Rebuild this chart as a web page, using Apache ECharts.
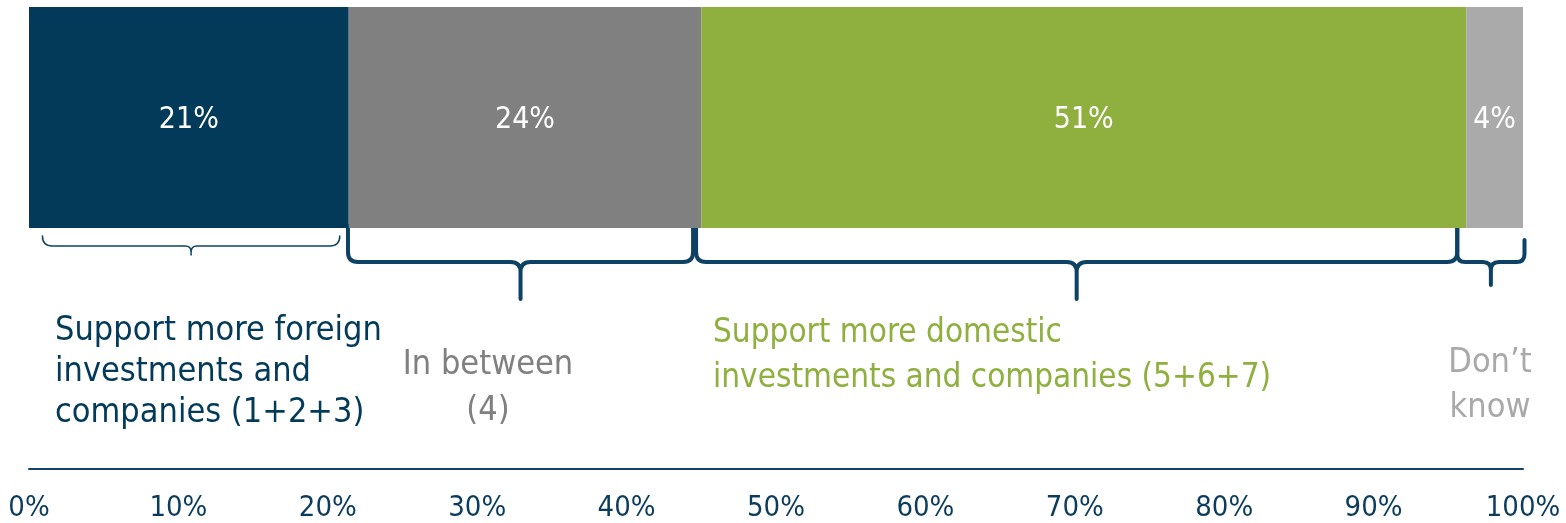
<!DOCTYPE html>
<html>
<head>
<meta charset="utf-8">
<title>Foreign vs domestic investments</title>
<script src="https://cdn.jsdelivr.net/npm/echarts@6/dist/echarts.min.js"></script>
<style>
  html, body { margin: 0; padding: 0; background: #fff; }
  #chart { width: 1566px; height: 523px; }
</style>
</head>
<body>
<div id="chart"></div>
<script>
// answer groups, left to right
const groups = ['Support more foreign investments and companies (1+2+3)', 'In between (4)', 'Support more domestic investments and companies (5+6+7)', 'Don’t know']
const shares = [21.4, 23.6, 51.2, 3.8]
const groupColors = ['#033a5a', '#808080', '#8faf3f', '#abaaab']
const textColors = ['#033a5a', '#808080', '#8faf3f', '#a9a9a9']
const groupLines = [
  ['Support more foreign', 'investments and', 'companies (1+2+3)'],
  ['In between', '(4)'],
  ['Support more domestic', 'investments and companies (5+6+7)'],
  ['Don’t', 'know']
]
// axis ticks
const xMin = 0
const xMax = 100
const xStep = 10
// brace spans, in % of the axis
const braceSpans = [[0.9, 20.8], [21.35, 44.45], [44.65, 95.6], [95.6, 100.1]]

// brace look (pixels)
const braceStyles = [
  { w: 1.5, topL: 236, topR: 236, h: 246, tip: 255, re: 10, rc: 6 },
  { w: 4, topL: 226, topR: 226, h: 262, tip: 299, re: 10, rc: 10 },
  { w: 4, topL: 226, topR: 228, h: 262, tip: 299, re: 10, rc: 10 },
  { w: 4, topL: 228, topR: 240, h: 262, tip: 285, re: 8, rc: 8 }
]
// text blocks (pixels)
const textPlaces = [
  { x: 55, y: 311, align: 'left', lh: 41, size: 34 },
  { x: 488, y: 342, align: 'center', lh: 46, size: 34 },
  { x: 713, y: 311, align: 'left', lh: 45, size: 33 },
  { x: 1490, y: 341, align: 'center', lh: 45, size: 34 }
]
const font = '"DejaVu Sans Condensed", "DejaVu Sans", sans-serif'

const chart = echarts.init(document.getElementById('chart'))

const bracePath = (x0, x1, s) => {
  const xm = (x0 + x1) / 2
  return [
    'M', x0, s.topL, 'L', x0, s.h - s.re, 'Q', x0, s.h, x0 + s.re, s.h,
    'L', xm - s.rc, s.h, 'Q', xm, s.h, xm, s.h + s.rc, 'L', xm, s.tip,
    'M', xm, s.h + s.rc, 'Q', xm, s.h, xm + s.rc, s.h,
    'L', x1 - s.re, s.h, 'Q', x1, s.h, x1, s.h - s.re, 'L', x1, s.topR
  ].join(' ')
}

const barSeries = groups.map((name, i) => ({
  name: name,
  type: 'bar',
  stack: 'total',
  xAxisIndex: 0,
  yAxisIndex: 0,
  barWidth: '100%',
  data: [shares[i]],
  itemStyle: { color: groupColors[i] },
  label: {
    show: true,
    position: 'inside',
    offset: [0, 3],
    color: '#ffffff',
    fontSize: 30,
    fontFamily: font,
    formatter: p => Math.round(p.value) + '%'
  },
  silent: true
}))

const option = {
  animation: false,
  grid: [
    { left: 29, right: 43, top: 7, height: 221 },
    { left: 29, right: 43, top: 7, bottom: 54 }
  ],
  xAxis: [
    { gridIndex: 0, type: 'value', min: xMin, max: xMax, show: false },
    {
      gridIndex: 1,
      type: 'value',
      min: xMin,
      max: xMax,
      interval: xStep,
      axisLine: { show: true, onZero: false, lineStyle: { color: '#0f4466', width: 2 } },
      axisTick: { show: false },
      splitLine: { show: false },
      axisLabel: {
        formatter: '{value}%',
        color: '#0b3c5d',
        fontSize: 29,
        fontFamily: font,
        margin: 25
      }
    }
  ],
  yAxis: [
    { gridIndex: 0, type: 'category', data: ['All'], show: false },
    { gridIndex: 1, type: 'value', min: 0, max: 1, show: false }
  ],
  series: [
    ...barSeries,
    {
      type: 'custom',
      xAxisIndex: 1,
      yAxisIndex: 1,
      clip: false,
      silent: true,
      encode: { x: [0, 1] },
      data: braceSpans.map((s, i) => [s[0], s[1], i]),
      renderItem: (params, api) => {
        const x0 = api.coord([api.value(0), 0])[0]
        const x1 = api.coord([api.value(1), 0])[0]
        const s = braceStyles[api.value(2)]
        return {
          type: 'path',
          shape: { pathData: bracePath(x0, x1, s) },
          style: { fill: null, stroke: '#0d4265', lineWidth: s.w, lineJoin: 'round', lineCap: 'round' }
        }
      }
    }
  ],
  graphic: groupLines.map((lines, i) => ({
    type: 'text',
    x: textPlaces[i].x,
    y: textPlaces[i].y,
    silent: true,
    style: {
      text: lines.join('\n'),
      fill: textColors[i],
      font: textPlaces[i].size + 'px ' + font,
      lineHeight: textPlaces[i].lh,
      align: textPlaces[i].align,
      verticalAlign: 'top'
    }
  }))
}

chart.setOption(option)
</script>
</body>
</html>
